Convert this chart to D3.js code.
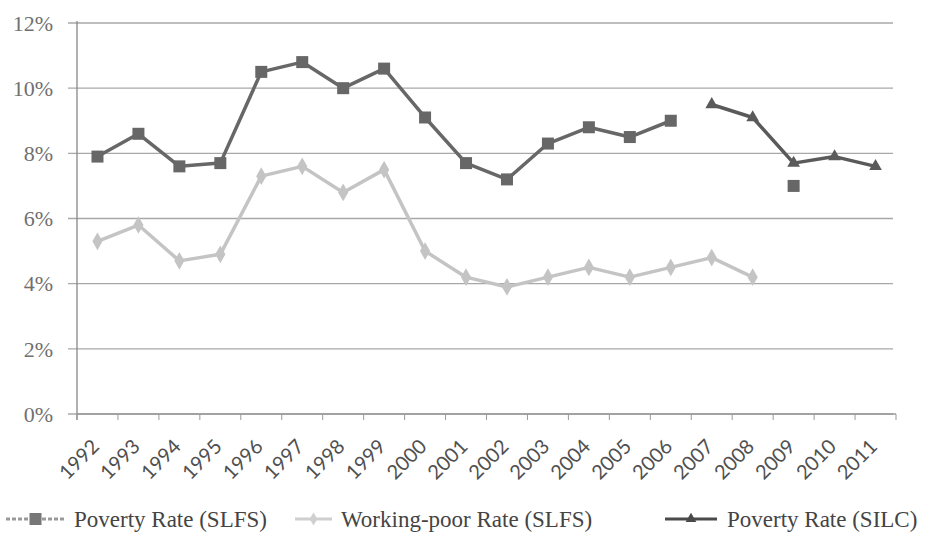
<!DOCTYPE html>
<html><head><meta charset="utf-8">
<script src="https://cdn.jsdelivr.net/npm/d3@7"></script>
<style>body{margin:0;background:#fff}svg{display:block}</style>
</head><body><svg id="c" width="926" height="533"></svg>
<script>
const years = ["1992","1993","1994","1995","1996","1997","1998","1999","2000","2001","2002","2003","2004","2005","2006","2007","2008","2009","2010","2011"];
const povertySLFS = [7.9,8.6,7.6,7.7,10.5,10.8,10.0,10.6,9.1,7.7,7.2,8.3,8.8,8.5,9.0,null,null,7.0,null,null];
const workingPoorSLFS = [5.3,5.8,4.7,4.9,7.3,7.6,6.8,7.5,5.0,4.2,3.9,4.2,4.5,4.2,4.5,4.8,4.2,null,null,null];
const povertySILC = [null,null,null,null,null,null,null,null,null,null,null,null,null,null,null,9.5,9.1,7.7,7.9,7.6];
const yTicks = [0,2,4,6,8,10,12];
const seriesNames = ["Poverty Rate (SLFS)","Working-poor Rate (SLFS)","Poverty Rate (SILC)"];

(function(){
const svg = d3.select("#c");
const mLeft = 77, mRight = 896, mTop = 23, mBottom = 414;
const x = d3.scaleBand().domain(years).range([mLeft, mRight]);
const y = d3.scaleLinear().domain([0, 12]).range([mBottom, mTop]);
const serif = "'Liberation Serif','Times New Roman',serif";

// gridlines
svg.append("g").selectAll("line").data(yTicks).join("line")
  .attr("x1", 68).attr("x2", 893)
  .attr("y1", d => y(d)).attr("y2", d => y(d))
  .attr("stroke", "#a8a8a8").attr("stroke-width", 1.3);

// y labels
svg.append("g").selectAll("text").data(yTicks).join("text")
  .attr("x", 53).attr("y", d => y(d)).attr("dy", "0.35em")
  .attr("text-anchor", "end").attr("font-family", serif).attr("font-size", 22)
  .attr("fill", "#707070").text(d => d + "%");

// y axis line
svg.append("line").attr("x1", mLeft).attr("x2", mLeft).attr("y1", mTop - 2).attr("y2", mBottom + 6)
  .attr("stroke", "#888").attr("stroke-width", 1.3);

// x axis
const gx = svg.append("g").attr("transform", `translate(0,${mBottom})`);
gx.append("line").attr("x1", mLeft).attr("x2", mRight).attr("stroke", "#999").attr("stroke-width", 1.3);
const bounds = years.map(yy => x(yy)).concat([mRight]);
gx.selectAll("line.tk").data(bounds).join("line").attr("class", "tk")
  .attr("x1", d => d).attr("x2", d => d).attr("y1", 0).attr("y2", 6)
  .attr("stroke", "#999").attr("stroke-width", 1);

// x labels
svg.append("g").selectAll("text").data(years).join("text")
  .attr("transform", d => `translate(${x(d) + x.bandwidth()/2 - 7},${mBottom + 24}) rotate(-45)`)
  .attr("text-anchor", "end").attr("dy", "0.7em")
  .attr("font-family", "Lato,'Open Sans',sans-serif").attr("font-size", 20)
  .attr("fill", "#505050").text(d => d);

const cx = (d, i) => x(years[i]) + x.bandwidth()/2;
const line = d3.line().defined(d => d != null).x((d, i) => cx(d, i)).y(d => y(d));

function drawSeries(data, color, width, marker) {
  const g = svg.append("g");
  g.append("path").attr("d", line(data)).attr("fill", "none")
    .attr("stroke", color).attr("stroke-width", width).attr("stroke-linejoin", "round");
  const pts = data.map((d, i) => ({v: d, i})).filter(p => p.v != null);
  pts.forEach(p => {
    const px = cx(p.v, p.i), py = y(p.v);
    if (marker === "square") {
      g.append("rect").attr("x", px - 6).attr("y", py - 6).attr("width", 12).attr("height", 12)
        .attr("fill", color);
    } else if (marker === "diamond") {
      g.append("path").attr("d", d3.symbol(d3.symbolDiamond, 90)()).attr("transform", `translate(${px},${py})`)
        .attr("fill", color);
    } else {
      g.append("path").attr("d", d3.symbol(d3.symbolTriangle, 70)()).attr("transform", `translate(${px},${py})`)
        .attr("fill", color);
    }
  });
}
drawSeries(workingPoorSLFS, "#c4c4c4", 3.5, "diamond");
drawSeries(povertySLFS, "#676767", 3.5, "square");
drawSeries(povertySILC, "#5a5a5a", 3.5, "triangle");

// legend
const legend = [
  {name: seriesNames[0], color: "#9a9a9a", marker: "square", x1: 6, x2: 65, tx: 74, dash: "4,2"},
  {name: seriesNames[1], color: "#cfcfcf", marker: "diamond", x1: 295, x2: 332, tx: 341, dash: null},
  {name: seriesNames[2], color: "#4a4a4a", marker: "triangle", x1: 665, x2: 717, tx: 727, dash: null}
];
const ly = 519;
legend.forEach(l => {
  const g = svg.append("g");
  g.append("line").attr("x1", l.x1).attr("x2", l.x2).attr("y1", ly).attr("y2", ly)
    .attr("stroke", l.color).attr("stroke-width", 3).attr("stroke-dasharray", l.dash);
  const mx = (l.x1 + l.x2)/2;
  if (l.marker === "square") g.append("rect").attr("x", mx - 6).attr("y", ly - 6).attr("width", 12).attr("height", 12).attr("fill", "#777");
  else if (l.marker === "diamond") g.append("path").attr("d", d3.symbol(d3.symbolDiamond, 50)()).attr("transform", `translate(${mx},${ly})`).attr("fill", l.color);
  else g.append("path").attr("d", d3.symbol(d3.symbolTriangle, 50)()).attr("transform", `translate(${mx},${ly})`).attr("fill", l.color);
  g.append("text").attr("x", l.tx).attr("y", ly).attr("dy", "0.35em")
    .attr("font-family", serif).attr("font-size", 23).attr("fill", "#444").text(l.name);
});
})();
</script></body></html>
